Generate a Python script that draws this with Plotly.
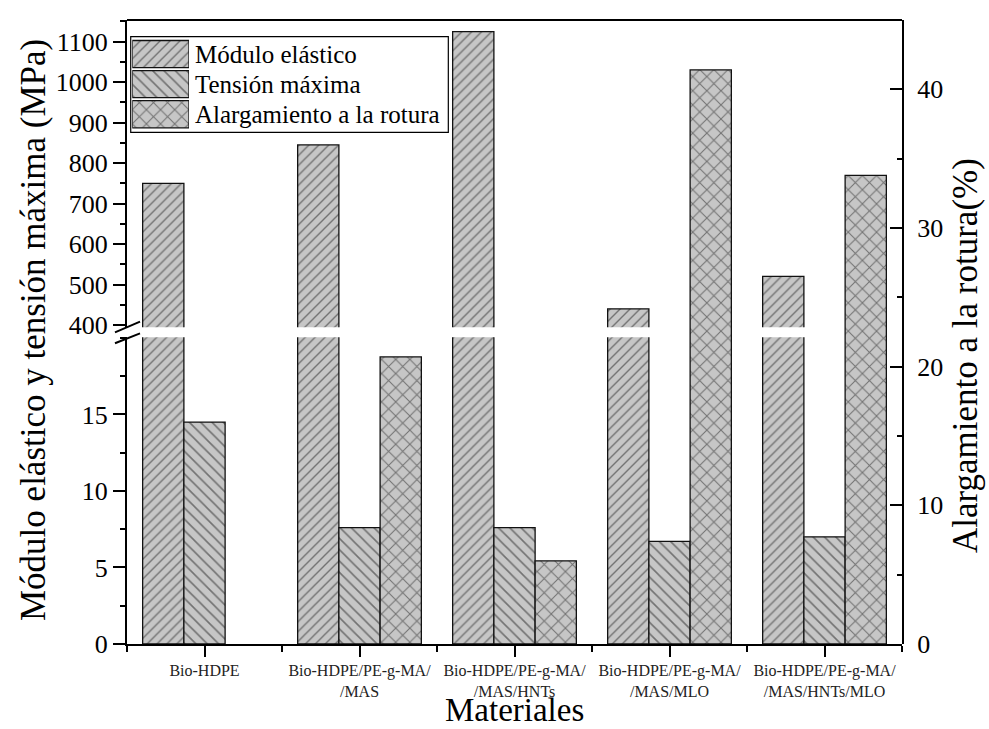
import plotly.graph_objects as go

# ---- data -------------------------------------------------------------
materiales = [
    "Bio-HDPE",
    "Bio-HDPE/PE-g-MA/<br>/MAS",
    "Bio-HDPE/PE-g-MA/<br>/MAS/HNTs",
    "Bio-HDPE/PE-g-MA/<br>/MAS/MLO",
    "Bio-HDPE/PE-g-MA/<br>/MAS/HNTs/MLO",
]
modulo_elastico = [750, 845, 1125, 440, 520]          # MPa
tension_maxima = [14.5, 7.6, 7.6, 6.7, 7.0]           # MPa
alargamiento_rotura = [None, 20.7, 6.0, 41.4, 33.8]   # %

legend_labels = ["Módulo elástico", "Tensión máxima", "Alargamiento a la rotura"]
legend_shapes = ["/", "\\", "x"]

upper_ticks = [400, 500, 600, 700, 800, 900, 1000, 1100]
lower_ticks = [0, 5, 10, 15]
right_ticks = [0, 10, 20, 30, 40]

# ---- styling ----------------------------------------------------------
FONT = "Liberation Serif"
BAR_FILL = "#c6c6c6"
HATCH = "#1e1e1e"
EDGE = "#111111"
BAR_W = 0.266
OFFSETS = [-1.5 * BAR_W, -0.5 * BAR_W, 0.5 * BAR_W]
HATCH_SIZE = {"/": 7, "\\": 8, "x": 10}
xpos = list(range(len(materiales)))


def marker(shape):
    return dict(
        color=BAR_FILL,
        line=dict(color=EDGE, width=1.3),
        pattern=dict(shape=shape, fgcolor=HATCH, bgcolor=BAR_FILL,
                     size=HATCH_SIZE[shape], solidity=0.2),
    )


fig = go.Figure()

# elastic modulus: drawn on both halves of the broken left axis
for ax in ("y", "y3"):
    fig.add_trace(go.Bar(x=xpos, y=modulo_elastico, xaxis="x", yaxis=ax,
                         width=BAR_W, offset=OFFSETS[0],
                         marker=marker("/"), showlegend=False))

fig.add_trace(go.Bar(x=xpos, y=tension_maxima, xaxis="x", yaxis="y",
                     width=BAR_W, offset=OFFSETS[1],
                     marker=marker("\\"), showlegend=False))

fig.add_trace(go.Bar(x=xpos, y=alargamiento_rotura, xaxis="x", yaxis="y2",
                     width=BAR_W, offset=OFFSETS[2],
                     marker=marker("x"), showlegend=False))

# hand-built legend swatches in a small inset subplot
for i, (lab, shp) in enumerate(zip(legend_labels, legend_shapes)):
    fig.add_trace(go.Bar(x=[1], y=[i], orientation="h", xaxis="x2", yaxis="y4",
                         width=0.9, marker=marker(shp),
                         showlegend=False, hoverinfo="skip"))

tick_font = dict(family=FONT, size=26, color="black")
axis_common = dict(showline=True, linecolor="black", linewidth=2,
                   ticks="outside", ticklen=12, tickwidth=2, tickcolor="black",
                   showgrid=False, zeroline=False, tickfont=tick_font)

fig.update_layout(
    width=989, height=729,
    margin=dict(l=127, r=87, t=20, b=85),
    paper_bgcolor="white", plot_bgcolor="rgba(0,0,0,0)",
    barmode="overlay",
    font=dict(family=FONT, color="black"),
    xaxis=dict(
        domain=[0, 1], anchor="y", range=[-0.5, 4.5],
        tickmode="array", tickvals=xpos, ticktext=materiales,
        showline=True, linecolor="black", linewidth=2,
        ticks="outside", ticklen=11, tickwidth=2, tickcolor="black",
        tickfont=dict(family=FONT, size=16, color="#222"),
        showgrid=False, zeroline=False,
        minor=dict(tickmode="linear", tick0=0.5, dtick=1, ticks="outside",
                   ticklen=6, tickwidth=2, tickcolor="black", showgrid=False),
    ),
    yaxis=dict(
        domain=[0, 0.4915], anchor="x", range=[0, 20.04],
        tickmode="array", tickvals=lower_ticks,
        minor=dict(tickmode="linear", tick0=0, dtick=2.5, ticks="outside",
                   ticklen=5, tickwidth=2, tickcolor="black", showgrid=False),
        **axis_common,
    ),
    yaxis3=dict(
        domain=[0.5075, 1], anchor="x", range=[394.3, 1153.5],
        tickmode="array", tickvals=upper_ticks,
        minor=dict(tickmode="linear", tick0=0, dtick=50, ticks="outside",
                   ticklen=5, tickwidth=2, tickcolor="black", showgrid=False),
        **axis_common,
    ),
    yaxis2=dict(
        domain=[0, 1], anchor="x", side="right", range=[0, 45.0],
        tickmode="array", tickvals=right_ticks,
        showline=True, linecolor="black", linewidth=2,
        ticks="inside", ticklen=12, tickwidth=2, tickcolor="black",
        ticklabelstandoff=8,
        minor=dict(tickmode="linear", tick0=0, dtick=5, ticks="inside",
                   ticklen=5, tickwidth=2, tickcolor="black", showgrid=False),
        showgrid=False, zeroline=False, tickfont=tick_font,
    ),
    xaxis2=dict(domain=[0.0068, 0.080], anchor="y4", range=[0, 1],
                visible=False, fixedrange=True),
    yaxis4=dict(domain=[0.8248, 0.9696], anchor="x2", range=[2.5, -0.5],
                visible=False, fixedrange=True),
)

# top frame line and the axis-break marks
shapes = [
    dict(type="line", xref="paper", yref="paper", x0=0, x1=1, y0=1, y1=1,
         line=dict(color="black", width=2)),
    dict(type="line", xref="paper", yref="paper", x0=-0.0155, x1=0.0168,
         y0=0.4995, y1=0.5165, line=dict(color="black", width=2)),
    dict(type="line", xref="paper", yref="paper", x0=-0.0155, x1=0.0168,
         y0=0.4819, y1=0.4979, line=dict(color="black", width=2)),
    dict(type="rect", xref="paper", yref="paper", x0=0.0048, x1=0.4146,
         y0=0.8200, y1=0.9732, line=dict(color="black", width=1.2)),
]
fig.update_layout(shapes=shapes)

annotations = [
    dict(text="Módulo elástico y tensión máxima (MPa)", xref="paper", yref="paper",
         x=-0.1213, y=0.5032, textangle=-90, showarrow=False,
         xanchor="center", yanchor="middle",
         font=dict(family=FONT, size=35, color="black")),
    dict(text="Alargamiento a la rotura(%)", xref="paper", yref="paper",
         x=1.0813, y=0.4615, textangle=-90, showarrow=False,
         xanchor="center", yanchor="middle",
         font=dict(family=FONT, size=35, color="black")),
    dict(text="Materiales", xref="paper", yref="paper",
         x=0.4994, y=-0.1360, showarrow=False, borderpad=0,
         xanchor="center", yanchor="bottom",
         font=dict(family=FONT, size=33, color="black")),
]
row_y = [0.9455, 0.8973, 0.8490]
for lab, yy in zip(legend_labels, row_y):
    annotations.append(dict(text=lab, xref="paper", yref="paper", x=0.0852, y=yy,
                            xanchor="left", yanchor="middle", showarrow=False,
                            font=dict(family=FONT, size=25, color="black")))
fig.update_layout(annotations=annotations)

fig.write_html("out.html")
